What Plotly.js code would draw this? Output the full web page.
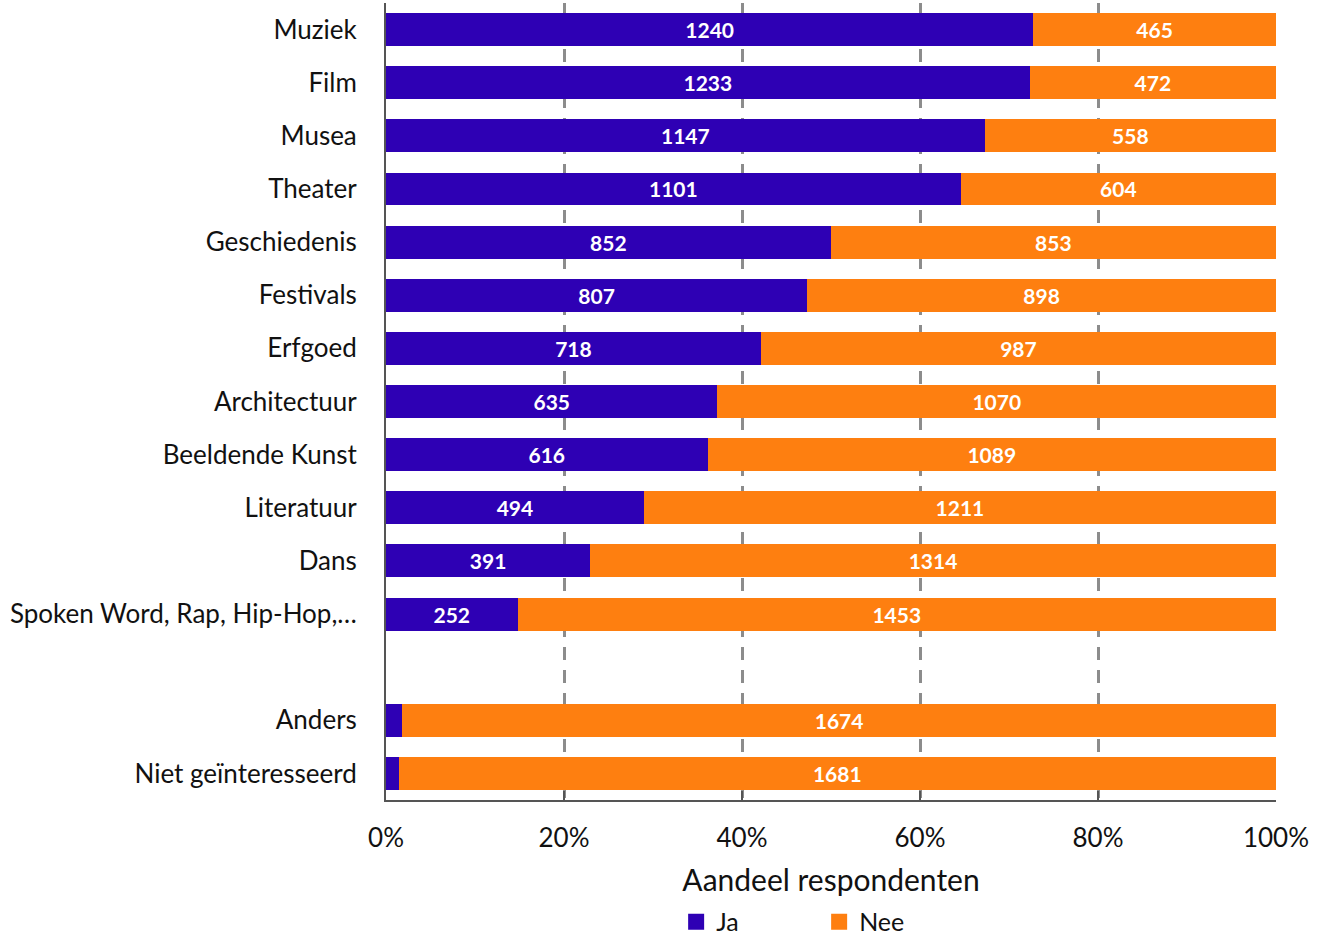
<!DOCTYPE html>
<html><head><meta charset="utf-8">
<script src="https://cdn.plot.ly/plotly-3.0.1.min.js"></script>
<style>html,body{margin:0;padding:0;background:#fff}</style>
</head><body>
<div id="chart" style="width:1332px;height:940px"></div>
<script>
const categories = ["Muziek","Film","Musea","Theater","Geschiedenis","Festivals","Erfgoed","Architectuur","Beeldende Kunst","Literatuur","Dans","Spoken Word, Rap, Hip-Hop,…","Anders","Niet geïnteresseerd"];
const jaValues  = [1240,1233,1147,1101,852,807,718,635,616,494,391,252,31,24];
const neeValues = [465,472,558,604,853,898,987,1070,1089,1211,1314,1453,1674,1681];
const jaLabels  = ["1240","1233","1147","1101","852","807","718","635","616","494","391","252","",""];
const neeLabels = ["465","472","558","604","853","898","987","1070","1089","1211","1314","1453","1674","1681"];
const seriesNames = ["Ja","Nee"];
const seriesColors = ["#2E00B4","#FE7F10"];
const spacer = " ";
const axisOrder = categories.slice(0,12).concat([spacer]).concat(categories.slice(12));
const tickVals = [0,20,40,60,80,100];
const tickText = ["0%","20%","40%","60%","80%","100%"];

const FONT = "Lato, 'Open Sans', sans-serif";
const barValues = [jaValues, neeValues];
const barLabels = [jaLabels, neeLabels];
const data = [];
for (let i = 0; i < 2; i++) {
  data.push({type:"bar", orientation:"h", name:seriesNames[i], y:categories, x:barValues[i], text:barLabels[i],
   textposition:"inside", insidetextanchor:"middle", textangle:0,
   textfont:{family:FONT, size:21, color:"#ffffff", weight:"bold"},
   marker:{color:seriesColors[i]}, showlegend:false, legendgroup:seriesNames[i], hoverinfo:"x+y"});
}
for (let i = 0; i < 2; i++) {
  data.push({type:"scatter", mode:"markers", name:seriesNames[i], x:[null], y:[null],
   marker:{symbol:"square", size:16, color:seriesColors[i]}, showlegend:true, legendgroup:seriesNames[i]});
}
const layout = {
  barmode:"stack", barnorm:"percent", bargap:0.38,
  width:1332, height:940,
  margin:{l:386, r:56, t:3, b:140, autoexpand:false},
  paper_bgcolor:"#fff", plot_bgcolor:"#fff",
  font:{family:FONT, size:26, color:"#111"},
  showlegend:true,
  legend:{orientation:"h", x:0.326, xanchor:"left", y:-0.153, yanchor:"middle",
          font:{family:FONT, size:25, color:"#111"}, itemwidth:30,
          entrywidth:98, entrywidthmode:"pixels", traceorder:"normal"},
  xaxis:{range:[0,100], tickvals:tickVals, ticktext:tickText,
         showgrid:true, gridcolor:"#8c8c8c", gridwidth:3, griddash:"13px,10px",
         showline:true, linecolor:"#555", linewidth:2,
         ticks:"inside", ticklen:9, tickcolor:"#555", tickwidth:2,
         ticklabelstandoff:14,
         zeroline:false, tickfont:{family:FONT, size:26, color:"#111"},
         title:{text:"Aandeel respondenten", font:{family:FONT, size:30, color:"#111"}, standoff:18},
         fixedrange:true},
  yaxis:{type:"category", categoryorder:"array", categoryarray:axisOrder,
         autorange:"reversed", showline:true, linecolor:"#555", linewidth:2,
         showgrid:false, ticks:"", ticklabelstandoff:22,
         tickfont:{family:FONT, size:26, color:"#111"}, fixedrange:true}
};
Plotly.newPlot("chart", data, layout, {displayModeBar:false, staticPlot:true});
</script>
</body></html>
